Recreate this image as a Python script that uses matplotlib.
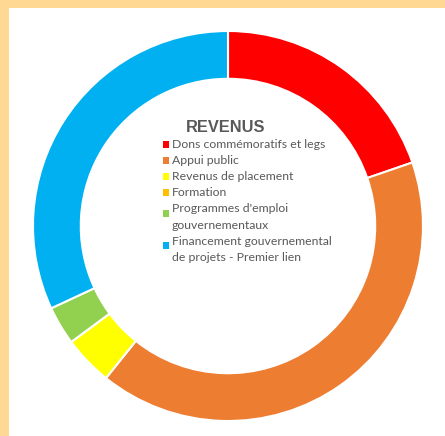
import matplotlib.pyplot as plt
from matplotlib.patches import Rectangle

# revenue breakdown (share of total, %)
categories = [
    "Dons commémoratifs et legs",
    "Appui public",
    "Revenus de placement",
    "Formation",
    "Programmes d'emploi\ngouvernementaux",
    "Financement gouvernemental\nde projets - Premier lien",
]
shares = [19.7, 41.0, 4.1, 0.0, 3.2, 31.9]
colors = ["#FF0000", "#ED7D31", "#FFFF00", "#FFC000", "#92D050", "#00B0F0"]
title = "REVENUS"

W, H = 445, 436
TEXT_GRAY = "#595959"


def fig_xy(x, y):
    # pixel position (from top-left) to figure fraction
    return x / W, 1 - y / H


fig = plt.figure(figsize=(W / 100, H / 100), dpi=100)
fig.patch.set_facecolor("#FFD993")
fig.add_artist(Rectangle((9 / W, 0), 1, (H - 8) / H, transform=fig.transFigure,
                         facecolor="white", edgecolor="none", zorder=-5))

cx, cy, r = 228, 226, 195
ax = fig.add_axes([(cx - r) / W, (H - cy - r) / H, 2 * r / W, 2 * r / H])
ax.set_facecolor("none")
ax.pie(shares, colors=colors, startangle=90, counterclock=False, radius=1,
       wedgeprops=dict(width=0.245, edgecolor="white", linewidth=1.5))
ax.set_xlim(-1, 1)
ax.set_ylim(-1, 1)
ax.set_aspect("equal")
ax.axis("off")

# legend in the hole of the ring
fig.text(*fig_xy(226, 132.5), title, ha="center", va="baseline",
         fontsize=11.8, fontweight="bold", color=TEXT_GRAY, family="Liberation Sans")

baseline = 148.5
pitch = 16
for label, color in zip(categories, colors):
    lines = label.split("\n")
    marker_y = baseline - 4 + (5 if len(lines) > 1 else 0)
    fig.add_artist(Rectangle(fig_xy(162.5, marker_y + 3.25), 6.5 / W, 6.5 / H,
                             transform=fig.transFigure, facecolor=color, edgecolor="none"))
    for line in lines:
        fig.text(*fig_xy(172, baseline), line, ha="left", va="baseline",
                 fontsize=8.8, color=TEXT_GRAY, family="Lato")
        baseline += pitch

fig.savefig("out.png", dpi=100)
plt.close(fig)
